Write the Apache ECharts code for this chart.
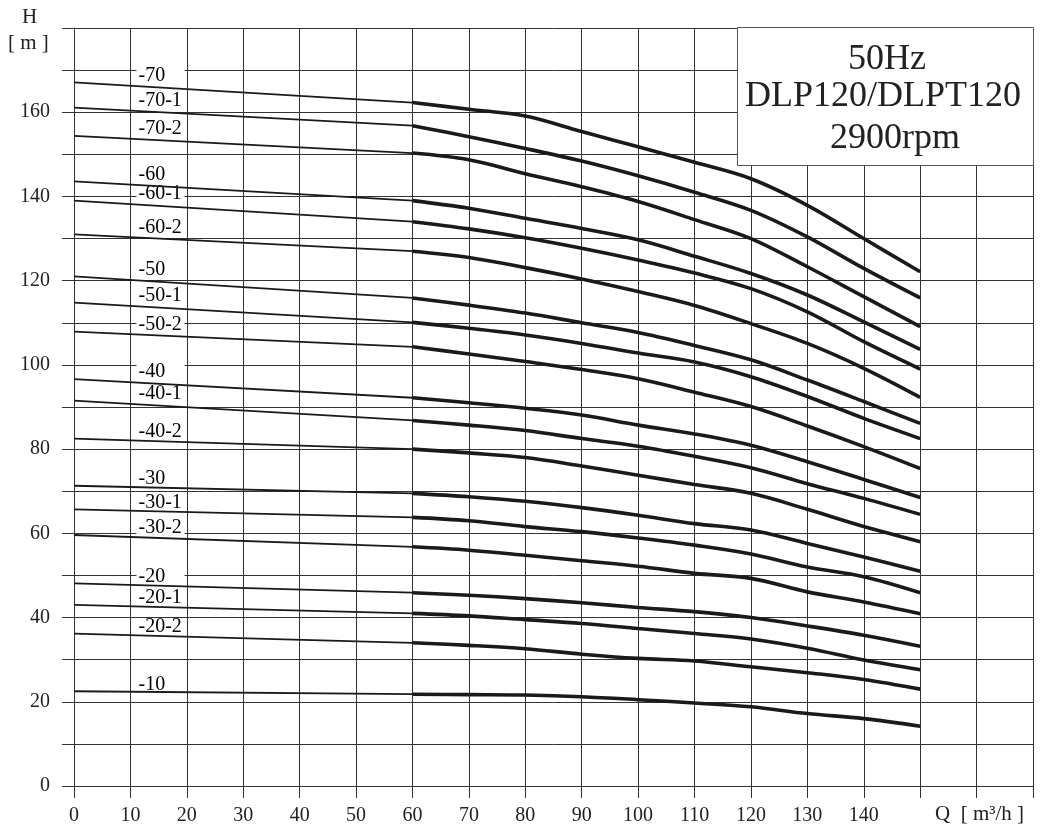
<!DOCTYPE html>
<html>
<head>
<meta charset="utf-8">
<script src="https://cdn.jsdelivr.net/npm/echarts@6/dist/echarts.min.js"></script>
<style>
    html, body { margin: 0; padding: 0; background: #fff; }
    #chart { width: 1041px; height: 831px; }
</style>
</head>
<body>
<div id="chart"></div>
<script>
// pump stages (curve names)
const stages = ['-70', '-70-1', '-70-2', '-60', '-60-1', '-60-2', '-50', '-50-1', '-50-2',
    '-40', '-40-1', '-40-2', '-30', '-30-1', '-30-2', '-20', '-20-1', '-20-2', '-10']
// head at Q = 0 (thin part runs 0 -> 60)
const headAtZero = [167.1, 161.1, 154.4, 143.6, 139.0, 131.0, 121.0, 114.8, 107.9,
    96.6, 91.5, 82.5, 71.3, 65.7, 59.6, 48.1, 43.0, 36.2, 22.5]
// flow points of the working range (thick part)
const flowWork = [60, 70, 80, 90, 100, 110, 120, 130, 140, 150]
// head along flowWork, one row per stage
const headWork = [
    [162.3, 160.7, 159.1, 155.4, 151.8, 148.1, 144.2, 137.9, 130.0, 122.1],
    [156.8, 154.2, 151.4, 148.4, 144.9, 141.0, 136.7, 130.4, 122.9, 115.9],
    [150.3, 148.7, 145.4, 142.3, 138.8, 134.5, 130.0, 123.3, 116.2, 109.1],
    [139.0, 137.2, 134.8, 132.4, 129.7, 125.8, 121.7, 116.6, 110.2, 103.7],
    [134.0, 132.3, 130.2, 127.7, 124.9, 121.8, 118.1, 112.6, 105.5, 99.0],
    [127.0, 125.5, 123.1, 120.4, 117.4, 114.1, 109.8, 105.1, 99.2, 92.3],
    [115.9, 114.2, 112.3, 110.0, 107.7, 104.6, 101.2, 96.4, 91.3, 86.1],
    [110.1, 108.7, 107.1, 105.1, 102.8, 100.7, 97.2, 92.5, 87.3, 82.5],
    [104.3, 102.6, 100.8, 98.9, 96.7, 93.5, 90.1, 85.5, 80.6, 75.4],
    [92.2, 91.0, 89.7, 88.1, 85.7, 83.6, 80.9, 77.0, 72.8, 68.5],
    [86.8, 85.7, 84.4, 82.5, 80.7, 78.3, 75.6, 71.8, 68.3, 64.5],
    [80.0, 79.1, 78.0, 76.0, 73.8, 71.6, 69.5, 65.7, 61.6, 58.0],
    [69.5, 68.7, 67.6, 66.1, 64.3, 62.3, 60.8, 57.6, 54.4, 51.0],
    [63.8, 63.0, 61.6, 60.4, 58.9, 57.2, 55.1, 52.0, 49.7, 45.9],
    [56.8, 56.0, 54.8, 53.5, 52.2, 50.5, 49.3, 46.1, 43.7, 40.9],
    [45.9, 45.3, 44.5, 43.5, 42.4, 41.4, 40.0, 38.0, 35.8, 33.2],
    [41.0, 40.4, 39.5, 38.6, 37.4, 36.2, 34.9, 32.7, 29.9, 27.6],
    [34.0, 33.4, 32.6, 31.3, 30.3, 29.7, 28.3, 26.9, 25.3, 23.0],
    [21.8, 21.7, 21.6, 21.2, 20.5, 19.7, 18.8, 17.2, 16.0, 14.2]
]
const titleLines = ['50Hz', 'DLP120/DLPT120', '2900rpm']

const FONT = 'Liberation Serif'
const gridColor = '#333'
const lineColor = '#1a1a1a'

let series = []
stages.forEach(function(name, i) {
    // thin part, shut-off to 60 m3/h
    series.push({
        type: 'line',
        z: 5,
        symbol: 'none',
        silent: true,
        lineStyle: { color: lineColor, width: 1.8 },
        data: [[0, headAtZero[i]], [flowWork[0], headWork[i][0]]]
    })
    // thick part, working range
    series.push({
        type: 'line',
        z: 5,
        symbol: 'none',
        smooth: 0.35,
        silent: true,
        lineStyle: { color: lineColor, width: 3.6, cap: 'butt' },
        data: flowWork.map(function(q, k) { return [q, headWork[i][k]] })
    })
})
// stage labels, white box hides the grid behind them
series.push({
    type: 'scatter',
    z: 1,
    symbolSize: 1,
    itemStyle: { color: '#fff', opacity: 1 },
    silent: true,
    label: {
        show: true,
        position: 'right',
        distance: 0,
        offset: [62, -7],
        formatter: function(p) { return p.data[2] },
        fontFamily: FONT,
        fontSize: 20,
        color: '#000',
        opacity: 1,
        textBorderWidth: 0,
        backgroundColor: '#fff',
        width: 44,
        lineHeight: 15,
        padding: [1, 2, 0, 2]
    },
    data: stages.map(function(name, i) { return [0, headAtZero[i], name] })
})

const chart = echarts.init(document.getElementById('chart'))
chart.setOption({
    animation: false,
    backgroundColor: '#fff',
    grid: { left: 74, right: 8, top: 28, bottom: 45 },
    xAxis: {
        type: 'value',
        min: 0,
        max: 170,
        interval: 10,
        axisLine: { show: true, lineStyle: { color: gridColor, width: 1 } },
        axisTick: { show: true, length: 12, lineStyle: { color: gridColor, width: 1 } },
        splitLine: { show: true, lineStyle: { color: gridColor, width: 1 } },
        axisLabel: {
            margin: 20,
            fontFamily: FONT,
            fontSize: 20,
            color: '#222',
            formatter: function(v) { return v <= 140 ? String(v) : '' }
        }
    },
    yAxis: {
        type: 'value',
        min: 0,
        max: 180,
        interval: 10,
        axisLine: { show: true, lineStyle: { color: gridColor, width: 1 } },
        axisTick: { show: true, length: 12, lineStyle: { color: gridColor, width: 1 } },
        splitLine: { show: true, lineStyle: { color: gridColor, width: 1 } },
        axisLabel: {
            margin: 24,
            fontFamily: FONT,
            fontSize: 20,
            color: '#222',
            formatter: function(v) { return (v % 20 === 0 && v < 180) ? String(v) : '' }
        }
    },
    graphic: [
        {
            type: 'text', left: 22, top: 7, z: 100,
            style: { text: 'H', font: '21px "Liberation Serif"', fill: '#222' }
        },
        {
            type: 'text', left: 8, top: 33, z: 100,
            style: { text: '[ m ]', font: '21px "Liberation Serif"', fill: '#222' }
        },
        {
            type: 'text', left: 935, top: 804, z: 100,
            style: { text: 'Q  [ m³/h ]', font: '21px "Liberation Serif"', fill: '#222' }
        },
        {
            type: 'rect', left: 737, top: 27, z: 100,
            shape: { width: 296, height: 138 },
            style: { fill: '#fff', stroke: '#555', lineWidth: 1 }
        },
        {
            type: 'text', x: 887, y: 60, z: 101,
            style: { text: titleLines[0], font: '36px "Liberation Serif"', fill: '#222', align: 'center', verticalAlign: 'middle' }
        },
        {
            type: 'text', x: 883, y: 97, z: 101,
            style: { text: titleLines[1], font: '36px "Liberation Serif"', fill: '#222', align: 'center', verticalAlign: 'middle' }
        },
        {
            type: 'text', x: 895, y: 139, z: 101,
            style: { text: titleLines[2], font: '36px "Liberation Serif"', fill: '#222', align: 'center', verticalAlign: 'middle' }
        }
    ],
    series: series
})
</script>
</body>
</html>
